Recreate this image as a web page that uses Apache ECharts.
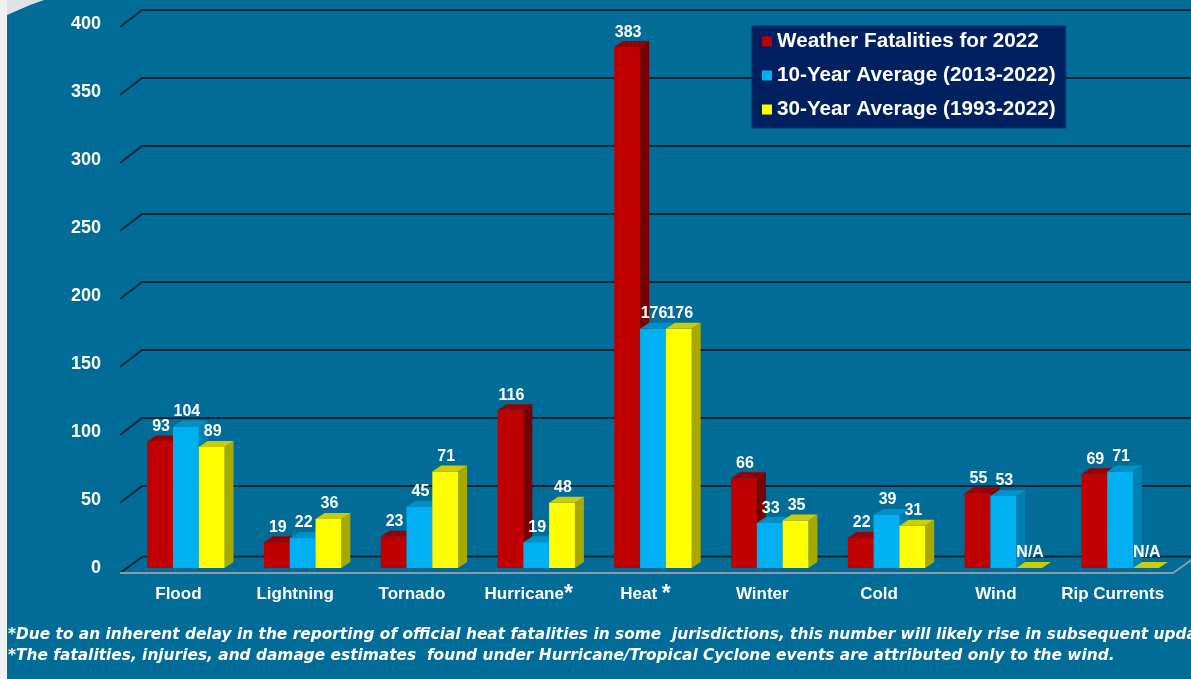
<!DOCTYPE html>
<html>
<head>
<meta charset="utf-8">
<script src="https://cdn.jsdelivr.net/npm/echarts/dist/echarts.min.js"></script>
<style>
  html, body { margin: 0; padding: 0; background: #006c97; }
  #main { width: 1191px; height: 679px; }
</style>
</head>
<body>
<div id="main"></div>
<script>
// data
const categories = ['Flood', 'Lightning', 'Tornado', 'Hurricane', 'Heat', 'Winter', 'Cold', 'Wind', 'Rip Currents'];
const fatal2022 = [93, 19, 23, 116, 383, 66, 22, 55, 69];
const tenYear = [104, 22, 45, 19, 176, 33, 39, 53, 71];
const thirtyYear = [89, 36, 71, 48, 176, 35, 31, null, null];
const yTicks = [0, 50, 100, 150, 200, 250, 300, 350, 400];
const seriesNames = ['Weather Fatalities for 2022', '10-Year Average (2013-2022)', '30-Year Average (1993-2022)'];
const footnotes = [
  '*Due to an inherent delay in the reporting of official heat fatalities in some  jurisdictions, this number will likely rise in subsequent updates.',
  '*The fatalities, injuries, and damage estimates  found under Hurricane/Tropical Cyclone events are attributed only to the wind.'
];

// face colours: front, top, side
const faces = [
  ['#c00000', '#9a0000', '#780000'],
  ['#00b0f0', '#0090c8', '#0080b2'],
  ['#ffff00', '#cccc00', '#a8a800']
];

const DX = 9, DY = 6;
const FONT = 'Liberation Sans, Arial, sans-serif';

function toData(arr) {
  return arr.map((v, i) => [i, v == null ? 0 : v, v == null ? 1 : 0]);
}

function barRender(s) {
  return function (params, api) {
    const idx = api.value(0);
    const val = api.value(1);
    const na = api.value(2) === 1;
    const base = api.coord([idx, 0]);
    const top = api.coord([idx, val]);
    const band = api.size([1, 0])[0];
    const w = band * 0.221;
    const x = base[0] + band * 0.064 - 1.5 * w + s * w;
    const by = base[1], ty = top[1];
    const c = faces[s];
    const children = [];
    if (!na) {
      children.push({
        type: 'polygon',
        shape: { points: [[x + w, ty], [x + w + DX, ty - DY], [x + w + DX, by - DY], [x + w, by]] },
        style: { fill: c[2] }
      });
      children.push({ type: 'rect', shape: { x: x, y: ty, width: w, height: by - ty }, style: { fill: c[0] } });
    }
    children.push({
      type: 'polygon',
      shape: { points: [[x, ty], [x + w, ty], [x + w + DX, ty - DY], [x + DX, ty - DY]] },
      style: { fill: c[1] }
    });
    children.push({
      type: 'text',
      style: {
        text: na ? 'N/A' : String(val),
        x: x + w / 2 + 1,
        y: ty - 15,
        align: 'center',
        verticalAlign: 'middle',
        fill: '#ffffff',
        font: 'bold 16px ' + FONT
      }
    });
    return { type: 'group', children: children };
  };
}

function gridRender(params, api) {
  const v = api.value(1);
  const y = api.coord([0, v])[1];
  const cs = params.coordSys;
  const x0 = cs.x;
  const lineStyle = { stroke: '#0d2636', lineWidth: 2, fill: null };
  if (v === 0) {
    return {
      type: 'group',
      children: [
        { type: 'polyline', shape: { points: [[x0, y + 5], [x0 + 23, y - 11.5], [1195, y - 11.5]] }, style: lineStyle },
        { type: 'polyline', shape: { points: [[x0, y + 5], [cs.x + cs.width + 2, y + 5], [cs.x + cs.width + 26, y - 12]] },
          style: { stroke: '#8c9aa4', lineWidth: 2, fill: null } }
      ]
    };
  }
  return {
    type: 'polyline',
    shape: { points: [[x0, y + 3], [x0 + 22, y - 14], [1195, y - 14]] },
    style: lineStyle
  };
}

const chart = echarts.init(document.getElementById('main'));

const barSeries = [fatal2022, tenYear, thirtyYear].map((arr, s) => ({
  name: seriesNames[s],
  type: 'custom',
  renderItem: barRender(s),
  data: toData(arr),
  encode: { x: 0, y: 1 },
  itemStyle: { color: faces[s][0] },
  clip: false,
  z: 3 + s
}));

chart.setOption({
  backgroundColor: '#006c97',
  animation: false,
  color: faces.map(f => f[0]),
  grid: { left: 120, right: 20, top: 24, bottom: 111 },
  legend: {
    data: seriesNames,
    orient: 'vertical',
    left: 752,
    top: 26,
    backgroundColor: '#002060',
    borderColor: '#0b3070',
    borderWidth: 1,
    padding: [5, 10, 8, 10],
    itemGap: 13,
    itemWidth: 10,
    itemHeight: 10,
    icon: 'rect',
    textStyle: { color: '#ffffff', fontWeight: 'bold', fontSize: 20.7, fontFamily: FONT }
  },
  xAxis: {
    type: 'category',
    data: categories,
    axisLine: { show: false },
    axisTick: { show: false },
    axisLabel: {
      margin: 15,
      interval: 0,
      color: '#ffffff',
      fontSize: 17,
      fontWeight: 'bold',
      fontFamily: FONT,
      formatter: function (val) {
        if (val === 'Hurricane') return '{n|Hurricane}{s|*}';
        if (val === 'Heat') return '{n|Heat }{s|*}';
        return '{n|' + val + '}';
      },
      rich: {
        n: { color: '#ffffff', fontSize: 17, fontWeight: 'bold', fontFamily: FONT, lineHeight: 22 },
        s: { color: '#ffffff', fontSize: 23, fontWeight: 'bold', fontFamily: FONT, lineHeight: 22, verticalAlign: 'top' }
      }
    }
  },
  yAxis: {
    type: 'value',
    min: 0,
    max: 400,
    interval: 50,
    splitLine: { show: false },
    axisLine: { show: false },
    axisTick: { show: false },
    axisLabel: {
      margin: 19,
      color: '#ffffff',
      fontSize: 18,
      fontWeight: 'bold',
      fontFamily: FONT,
      padding: [9, 0, 0, 0]
    }
  },
  graphic: [
    { type: 'rect', left: 0, top: 0, shape: { width: 7, height: 679 }, style: { fill: '#eef0f2' }, z: 10 },
    {
      type: 'polygon', z: 10,
      shape: { points: [[7, 0], [44, 0], [30, 5], [7, 15]] },
      style: { fill: '#dfe3e6' }
    },
    {
      type: 'text', left: 8, top: 627, z: 10,
      style: { text: footnotes[0], fill: '#ffffff', font: 'italic bold 15.4px DejaVu Sans, sans-serif' }
    },
    {
      type: 'text', left: 8, top: 648, z: 10,
      style: { text: footnotes[1], fill: '#ffffff', font: 'italic bold 15.4px DejaVu Sans, sans-serif' }
    }
  ],
  series: [
    {
      name: 'grid',
      type: 'custom',
      renderItem: gridRender,
      data: yTicks.map(v => [0, v]),
      encode: { x: 0, y: 1 },
      clip: false,
      silent: true,
      z: 1
    }
  ].concat(barSeries)
});
</script>
</body>
</html>
